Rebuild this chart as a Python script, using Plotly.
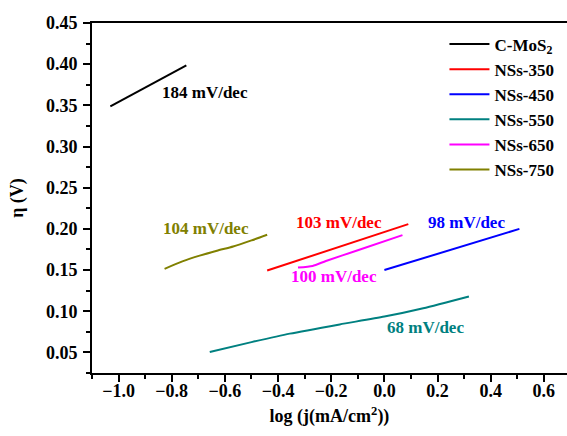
import plotly.graph_objects as go

FONT = "Liberation Serif"

series_names = ["C-MoS<sub>2</sub>", "NSs-350", "NSs-450", "NSs-550", "NSs-650", "NSs-750"]
series_colors = ["#000000", "#FF0000", "#0000FF", "#008080", "#FF00FF", "#808000"]

cmos2_x = [-1.031, -0.745]
cmos2_y = [0.3487, 0.3985]
nss350_x = [-0.441, 0.090]
nss350_y = [0.1494, 0.2058]
nss450_x = [0.000, 0.508]
nss450_y = [0.1500, 0.2000]
nss550_x = [-0.657, -0.500, -0.356, -0.168, 0.000, 0.146, 0.318]
nss550_y = [0.0506, 0.0625, 0.0728, 0.0840, 0.0935, 0.1037, 0.1180]
nss650_x = [-0.325, -0.270, -0.220, -0.100, 0.068]
nss650_y = [0.1530, 0.1550, 0.1610, 0.1740, 0.1924]
nss750_x = [-0.827, -0.760, -0.695, -0.630, -0.569, -0.500, -0.441]
nss750_y = [0.1515, 0.1605, 0.1675, 0.1735, 0.1786, 0.1860, 0.1928]

xs = [cmos2_x, nss350_x, nss450_x, nss550_x, nss650_x, nss750_x]
ys = [cmos2_y, nss350_y, nss450_y, nss550_y, nss650_y, nss750_y]

label_texts = ["184 mV/dec", "103 mV/dec", "98 mV/dec", "68 mV/dec", "100 mV/dec", "104 mV/dec"]
label_x = [-0.676, -0.171, 0.310, 0.156, -0.188, -0.670]
label_y = [0.366, 0.2074, 0.2082, 0.080, 0.1418, 0.200]

fig = go.Figure()
for name, color, x, y in zip(series_names, series_colors, xs, ys):
    fig.add_trace(go.Scatter(x=x, y=y, mode="lines", name=name,
                             line=dict(color=color, width=2, shape="spline", smoothing=0.6)))

for t, x, y, c in zip(label_texts, label_x, label_y, series_colors):
    fig.add_annotation(x=x, y=y, text=t, showarrow=False,
                       font=dict(family=FONT, size=17, color=c, weight="bold"))

axis_common = dict(
    showline=True, linecolor="#000000", linewidth=2,
    ticks="outside", ticklen=7, tickwidth=2, tickcolor="#000000",
    showgrid=False, zeroline=False, automargin=False,
    tickfont=dict(family=FONT, size=18, color="#000000", weight="bold"),
)

fig.update_xaxes(range=[-1.1, 0.687], dtick=0.2, tick0=-1.0, tickformat=".1f",
                 minor=dict(ticks="outside", ticklen=4, tickwidth=2, dtick=0.1, tickcolor="#000000"),
                 mirror=True, ticklabelstandoff=-7,
                 title=dict(text="log (j(mA/cm<sup>2</sup>))",
                            font=dict(family=FONT, size=18, color="#000000", weight="bold"),
                            standoff=10),
                 **axis_common)
fig.update_yaxes(range=[0.025, 0.45], dtick=0.05, tick0=0.05, tickformat=".2f",
                 minor=dict(ticks="outside", ticklen=4, tickwidth=2, dtick=0.025, tickcolor="#000000"),
                 ticklabelstandoff=2,
                 title=dict(text="η (V)",
                            font=dict(family=FONT, size=18, color="#000000", weight="bold"),
                            standoff=18),
                 **axis_common)

fig.update_layout(
    width=567, height=436,
    margin=dict(l=92, r=0, t=23, b=63, autoexpand=False),
    plot_bgcolor="white", paper_bgcolor="white",
    legend=dict(x=0.742, y=0.99, xanchor="left", yanchor="top",
                font=dict(family=FONT, size=17, color="#000000", weight="bold"),
                bgcolor="rgba(0,0,0,0)", itemwidth=40, tracegroupgap=0),
)

fig.write_html("out.html")
